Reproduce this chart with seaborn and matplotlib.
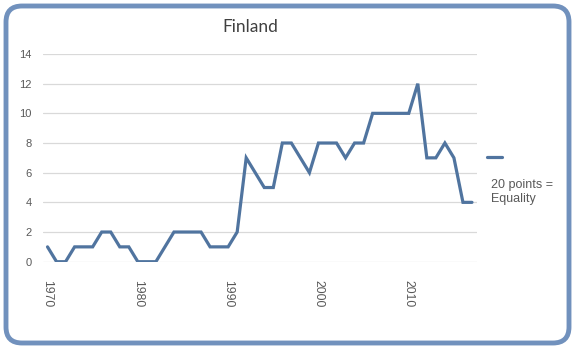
import matplotlib
matplotlib.use("Agg")
import matplotlib.pyplot as plt
from matplotlib.patches import FancyBboxPatch
from matplotlib.lines import Line2D
import seaborn as sns
import pandas as pd

# Gender-equality score for Finland, one value per year
years = list(range(1970, 2018))
scores = [1, 0, 0, 1, 1, 1, 2, 2, 1, 1,
          0, 0, 0, 1, 2, 2, 2, 2, 1, 1,
          1, 2, 7, 6, 5, 5, 8, 8, 7, 6,
          8, 8, 8, 7, 8, 8, 10, 10, 10, 10,
          10, 12, 7, 7, 8, 7, 4, 4]
tick_years = [1970, 1980, 1990, 2000, 2010]
y_ticks = [0, 2, 4, 6, 8, 10, 12, 14]
title = "Finland"
legend_label = "20 points =\nEquality"

line_color = "#50749f"
frame_color = "#7191bd"
text_gray = "#595959"

df = pd.DataFrame({"year": years, "score": scores})

sns.set_style("white")
plt.rcParams["font.family"] = ["Liberation Sans", "DejaVu Sans"]

fig = plt.figure(figsize=(5.82, 3.48), dpi=100)
ax = fig.add_axes([43 / 582, 1 - 261.7 / 348, (476.5 - 43) / 582, (261.7 - 54) / 348])

sns.lineplot(data=df, x="year", y="score", ax=ax, color=line_color,
             linewidth=2.3, solid_joinstyle="miter")

ax.set_xlim(1969.5, 2017.5)
ax.set_ylim(0, 14)
ax.set_yticks(y_ticks)
ax.set_xticks(tick_years)
ax.set_xticklabels([str(y) for y in tick_years], rotation=-90, va="top",
                   ha="center", color=text_gray, fontsize=8.7)
ax.set_yticklabels([str(v) for v in y_ticks], color=text_gray, fontsize=8)
ax.tick_params(axis="x", length=0, pad=13)
ax.tick_params(axis="y", length=0, pad=8)
ax.set_xlabel("")
ax.set_ylabel("")
ax.grid(axis="y", color="#d9d9d9", linewidth=0.9)
ax.set_axisbelow(True)
for side in ax.spines.values():
    side.set_visible(False)

fig.text(250 / 582, 1 - 27 / 348, title, ha="center", va="center",
         fontsize=12.5, color="#404040", family=["Lato", "DejaVu Sans"])

# Legend entry to the right of the plot
fig.add_artist(Line2D([487 / 582, 502 / 582], [1 - 157 / 348, 1 - 157 / 348],
                      transform=fig.transFigure, color=line_color, linewidth=2.3))
fig.text(491 / 582, 1 - 178.5 / 348, legend_label, ha="left", va="top",
         fontsize=9, color=text_gray, linespacing=1.3)

# Rounded chart frame
frame = FancyBboxPatch((0.06, 0.05), 5.63, 3.37,
                       boxstyle="round,pad=0,rounding_size=0.16",
                       transform=fig.dpi_scale_trans, facecolor="none",
                       edgecolor=frame_color, linewidth=3.5)
fig.add_artist(frame)

fig.savefig("out.png", dpi=100, facecolor="white")
